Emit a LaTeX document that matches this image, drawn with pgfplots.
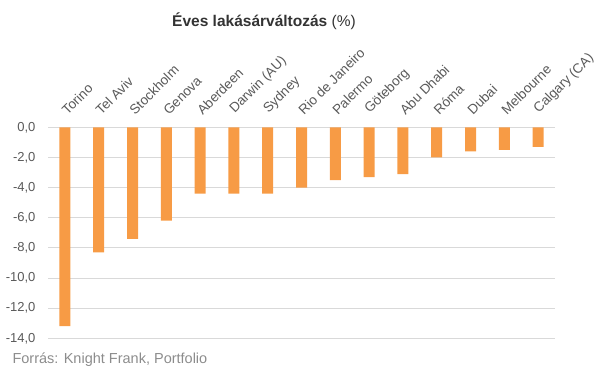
\documentclass[border=0pt]{standalone}
\usepackage{pgfplots}
\pgfplotsset{compat=1.18}
\usepackage{fontspec}
\setmainfont{Liberation Sans}
\definecolor{barorange}{HTML}{F79B45}
\definecolor{gridgray}{HTML}{D9D9D9}
\definecolor{ticktext}{HTML}{595959}
\definecolor{srcgray}{HTML}{8C8C8C}
\definecolor{titlecol}{HTML}{333333}
\begin{document}
\begin{tikzpicture}[x=1pt,y=1pt]
\useasboundingbox (0,0) rectangle (605,-379);
\node[anchor=center, font=\fontsize{15.5}{18}\selectfont, text=titlecol] at (264,-21) {\textbf{Éves lakásárváltozás} (\%)};
\begin{axis}[
  at={(48pt,-127.3pt)}, anchor=north west,
  scale only axis, width=507pt, height=211pt,
  xmin=-0.5, xmax=14.5, ymin=-14, ymax=0,
  axis line style={draw=none},
  major tick length=0pt,
  ytick={-14,-12,...,0},
  ymajorgrids, grid style={gridgray, line width=0.8pt},
  xtick={0,...,14},
  xticklabels={Torino,Tel Aviv,Stockholm,Genova,Aberdeen,Darwin (AU),Sydney,Rio de Janeiro,Palermo,Göteborg,Abu Dhabi,Róma,Dubai,Melbourne,Calgary (CA)},
  xticklabel pos=upper,
  xticklabel style={rotate=45, anchor=south west, inner sep=0pt, xshift=10pt, yshift=6pt, font=\fontsize{13.5}{16}\selectfont, text=ticktext},
  yticklabel style={font=\fontsize{13}{15}\selectfont, text=ticktext, xshift=-9pt},
  /pgf/number format/assume math mode=true,
  /pgf/number format/.cd, fixed, fixed zerofill, precision=1, use comma,
]
\addplot[ybar, bar width=11pt, fill=barorange, draw=none] coordinates {
(0,-13.2) (1,-8.3) (2,-7.4) (3,-6.2) (4,-4.4) (5,-4.4) (6,-4.4) (7,-4.0)
(8,-3.5) (9,-3.3) (10,-3.1) (11,-2.0) (12,-1.6) (13,-1.5) (14,-1.3)};
\end{axis}
\node[anchor=base west, font=\fontsize{14.5}{17}\selectfont, text=srcgray] at (9,-363) {Forrás: Knight Frank, Portfolio};
\end{tikzpicture}
\end{document}
